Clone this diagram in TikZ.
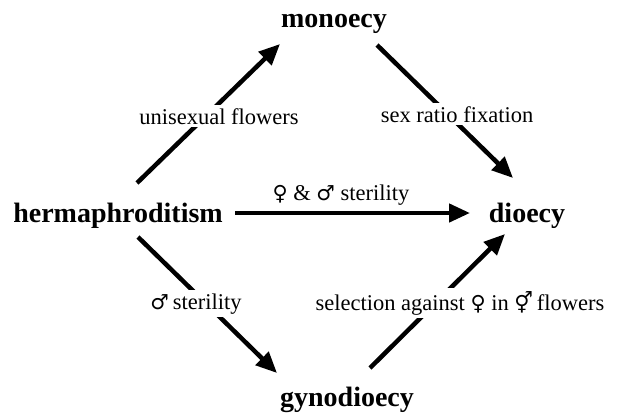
\documentclass[tikz,border=0pt]{standalone}
\usepackage{fontspec}
\setmainfont{Liberation Serif}
\newfontfamily\symfont[Scale=0.92]{DejaVu Sans}
\usetikzlibrary{arrows.meta,positioning}
\newcommand{\fem}{{\symfont ♀}}
\newcommand{\male}{{\symfont ♂}}
\newcommand{\bisex}{{\symfont ⚥}}

\begin{document}
\begin{tikzpicture}[x=1pt,y=-1pt,
  state/.style={
    font=\fontsize{28}{32}\selectfont\bfseries, inner sep=0pt, anchor=base,
  },
  route/.style={
    font=\fontsize{22.5}{26}\selectfont, fill=white, inner sep=3pt, anchor=base,
  },
  arrow/.style={
    -{Triangle[length=21pt,width=18pt]}, line width=4.5pt,
  },
]
  \useasboundingbox (0,0) rectangle (617,413);

  % Breeding systems
  \node[state] (herm) at (118,222) {hermaphroditism};
  \node[state] (mono) at (334,27) {monoecy};
  \node[state] (dio) at (527,222) {dioecy};
  \node[state] (gyno) at (347,406) {gynodioecy};

  % Arrow ends
  \coordinate (herm-up) at (137,183);
  \coordinate (herm-mid) at (235,213);
  \coordinate (herm-down) at (138,237);
  \coordinate (mono-in) at (280,44);
  \coordinate (mono-out) at (377,45);
  \coordinate (dio-top) at (513,178);
  \coordinate (dio-mid) at (470,213);
  \coordinate (dio-bot) at (505,234);
  \coordinate (gyno-in) at (277,373);
  \coordinate (gyno-out) at (370,368);

  % Connections
  \draw[arrow] (herm-up) -- (mono-in);
  \draw[arrow] (mono-out) -- (dio-top);
  \draw[arrow] (herm-mid) -- (dio-mid);
  \draw[arrow] (herm-down) -- (gyno-in);
  \draw[arrow] (gyno-out) -- (dio-bot);

  % Labels
  \node[route] (unisex) at (219,124) {unisexual flowers};
  \node[route] (ratio) at (457,122) {sex ratio fixation};
  \node[route] (both) at (341,200) {\fem\ \& \male\ sterility};
  \node[route] (malester) at (196,309) {\male\,sterility};
  \node[route] (select) at (460,310) {selection against \fem\ in \bisex\,flowers};
\end{tikzpicture}
\end{document}
